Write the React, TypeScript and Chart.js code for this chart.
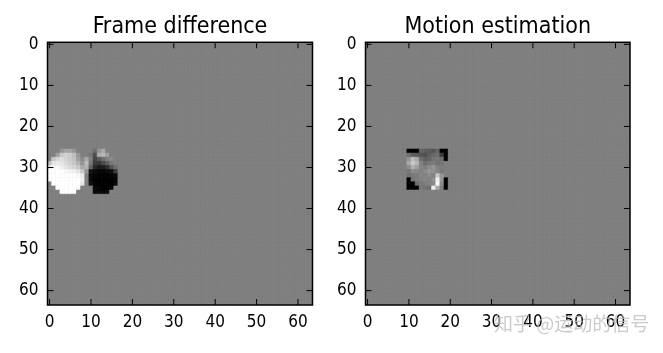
import React, { useEffect, useRef } from "react";
import { Chart, registerables } from "chart.js";

Chart.register(...registerables);

const gridSize = 64;
const backgroundLevel = 128;
const tickValues = [0, 10, 20, 30, 40, 50, 60];
const panelTitles = ["Frame difference", "Motion estimation"];
const watermark = "知乎 @运动的信号";

// grey levels (0 = black, 255 = white) of the non-flat part of each image
const frameDiffOrigin = [0, 26]; // [column, row] of the first value
const frameDiffRows: number[][] = [
  [128, 128, 128, 150, 165, 165, 150, 128, 128, 128, 128, 110, 150, 170, 128, 128, 128, 128],
  [128, 128, 160, 200, 210, 205, 190, 150, 128, 128, 120, 80, 175, 185, 160, 128, 128, 128],
  [128, 200, 215, 225, 215, 205, 195, 160, 140, 170, 130, 70, 90, 110, 130, 140, 128, 128],
  [190, 230, 235, 230, 220, 210, 200, 180, 150, 190, 120, 60, 55, 75, 95, 120, 128, 128],
  [240, 250, 250, 240, 230, 220, 215, 200, 170, 180, 100, 40, 25, 30, 45, 80, 110, 128],
  [255, 255, 255, 255, 250, 245, 240, 230, 200, 150, 20, 10, 5, 5, 10, 15, 60, 128],
  [255, 255, 255, 255, 255, 255, 255, 250, 235, 128, 10, 5, 0, 0, 0, 5, 10, 128],
  [255, 255, 255, 255, 255, 255, 255, 255, 240, 128, 10, 0, 0, 0, 0, 0, 5, 128],
  [128, 255, 255, 255, 255, 255, 255, 255, 230, 128, 20, 5, 0, 0, 0, 0, 10, 128],
  [128, 128, 255, 255, 255, 255, 255, 250, 128, 128, 128, 10, 5, 0, 0, 5, 128, 128],
  [128, 128, 128, 255, 255, 255, 255, 128, 128, 128, 128, 10, 10, 5, 10, 128, 128, 128],
];

const motionOrigin = [10, 26];
const motionRows: number[][] = [
  [0, 0, 0, 100, 95, 90, 85, 100, 0, 0],
  [110, 95, 90, 85, 80, 95, 105, 110, 60, 0],
  [150, 190, 170, 110, 95, 100, 115, 120, 110, 0],
  [170, 200, 185, 130, 110, 120, 125, 115, 120, 128],
  [140, 175, 160, 135, 125, 140, 150, 130, 125, 128],
  [120, 140, 135, 130, 140, 150, 145, 135, 120, 128],
  [115, 120, 125, 135, 130, 140, 130, 200, 150, 128],
  [0, 120, 125, 130, 135, 130, 145, 240, 150, 0],
  [0, 0, 110, 120, 125, 130, 140, 250, 140, 0],
  [0, 0, 0, 120, 115, 110, 240, 170, 128, 0],
];

type Cell = { x: number; y: number; v: number };

function buildCells(origin: number[], rows: number[][]): Cell[] {
  const cells: Cell[] = [];
  for (let r = 0; r < gridSize; r++) {
    for (let c = 0; c < gridSize; c++) {
      let v = backgroundLevel;
      const pr = r - origin[1];
      const pc = c - origin[0];
      if (pr >= 0 && pr < rows.length && pc >= 0 && pc < rows[pr].length) v = rows[pr][pc];
      cells.push({ x: c, y: r, v });
    }
  }
  return cells;
}

const grey = (v: number) => `rgb(${v},${v},${v})`;
const FONT = "'DejaVu Sans Condensed', 'DejaVu Sans', sans-serif";

const framePlugin = {
  id: "mplFrame",
  beforeDatasetsDraw(chart: any) {
    const { ctx, chartArea: a } = chart;
    ctx.save();
    ctx.fillStyle = grey(backgroundLevel);
    ctx.fillRect(a.left, a.top, a.right - a.left, a.bottom - a.top);
    ctx.restore();
  },
  afterDatasetsDraw(chart: any) {
    const { ctx, chartArea: a, scales } = chart;
    const L = 6;
    ctx.save();
    ctx.strokeStyle = "#000";
    ctx.lineWidth = 1;
    ctx.beginPath();
    for (const t of scales.x.ticks) {
      const px = scales.x.getPixelForValue(t.value);
      ctx.moveTo(px, a.bottom);
      ctx.lineTo(px, a.bottom - L);
      ctx.moveTo(px, a.top);
      ctx.lineTo(px, a.top + L);
    }
    for (const t of scales.y.ticks) {
      const py = scales.y.getPixelForValue(t.value);
      ctx.moveTo(a.left, py);
      ctx.lineTo(a.left + L, py);
      ctx.moveTo(a.right, py);
      ctx.lineTo(a.right - L, py);
    }
    ctx.stroke();
    ctx.lineWidth = 1.5;
    ctx.strokeRect(a.left, a.top, a.right - a.left, a.bottom - a.top);
    ctx.restore();
  },
};

function Panel(props: {
  title: string;
  cells: Cell[];
  left: number;
  width: number;
  chartLeft: number;
  padRight: number;
}) {
  const ref = useRef<HTMLCanvasElement>(null);
  useEffect(() => {
    if (!ref.current) return;
    const axisTicks = (scale: any) => {
      scale.ticks = tickValues.map((v) => ({ value: v }));
    };
    const tickStyle = {
      color: "#000",
      font: { family: FONT, size: 17 },
      maxRotation: 0,
      autoSkip: false,
    };
    const chart = new Chart(ref.current, {
      type: "scatter",
      data: {
        datasets: [
          {
            data: props.cells as any,
            pointStyle: "rect",
            pointRadius: (c: any) => {
              const s = c.chart.scales.x;
              return Math.abs(s.getPixelForValue(1) - s.getPixelForValue(0)) / Math.SQRT2;
            },
            pointBackgroundColor: (c: any) => grey(c.raw ? c.raw.v : backgroundLevel),
            pointBorderColor: (c: any) => grey(c.raw ? c.raw.v : backgroundLevel),
            pointBorderWidth: 0.6,
          } as any,
        ],
      },
      options: {
        responsive: false,
        animation: false,
        events: [],
        layout: { padding: { top: 13.2, left: 0, right: props.padRight, bottom: 0 } },
        plugins: {
          legend: { display: false },
          tooltip: { enabled: false },
          title: {
            display: true,
            text: props.title,
            color: "#000",
            fullSize: false,
            font: { family: FONT, size: 23, weight: "normal" as any },
            padding: { top: 0, bottom: 1.5 },
          },
        },
        scales: {
          x: {
            type: "linear",
            position: "bottom",
            min: -0.5,
            max: 63.5,
            grid: { display: false, drawTicks: false },
            border: { display: false },
            ticks: { ...tickStyle, padding: 7 },
            afterBuildTicks: axisTicks,
            afterFit: (s: any) => {
              s.height = 48;
            },
          },
          y: {
            type: "linear",
            position: "left",
            reverse: true,
            min: -0.5,
            max: 63.5,
            grid: { display: false, drawTicks: false },
            border: { display: false },
            ticks: { ...tickStyle, padding: 9 },
            afterBuildTicks: axisTicks,
            afterFit: (s: any) => {
              s.width = props.chartLeft;
            },
          },
        },
      } as any,
      plugins: [framePlugin],
    });
    return () => chart.destroy();
  }, []);
  return (
    <canvas
      ref={ref}
      width={props.width}
      height={353}
      style={{ position: "absolute", left: props.left, top: 0, width: props.width, height: 353, display: "block" }}
    />
  );
}

export default function App() {
  const frameCells = buildCells(frameDiffOrigin, frameDiffRows);
  const motionCells = buildCells(motionOrigin, motionRows);
  return (
    <div style={{ position: "fixed", left: 0, top: 0, width: 663, height: 353, background: "#fff", overflow: "hidden" }}>
      <Panel title={panelTitles[0]} cells={frameCells} left={0} width={331} chartLeft={47.5} padRight={18.5} />
      <Panel title={panelTitles[1]} cells={motionCells} left={331} width={332} chartLeft={34.5} padRight={33} />
      <span
        style={{
          position: "absolute",
          left: 494,
          top: 309,
          fontFamily: "'Noto Sans CJK SC', sans-serif",
          fontSize: 19,
          color: "rgba(190,190,190,0.8)",
          whiteSpace: "nowrap",
        }}
      >
        {watermark}
      </span>
    </div>
  );
}
